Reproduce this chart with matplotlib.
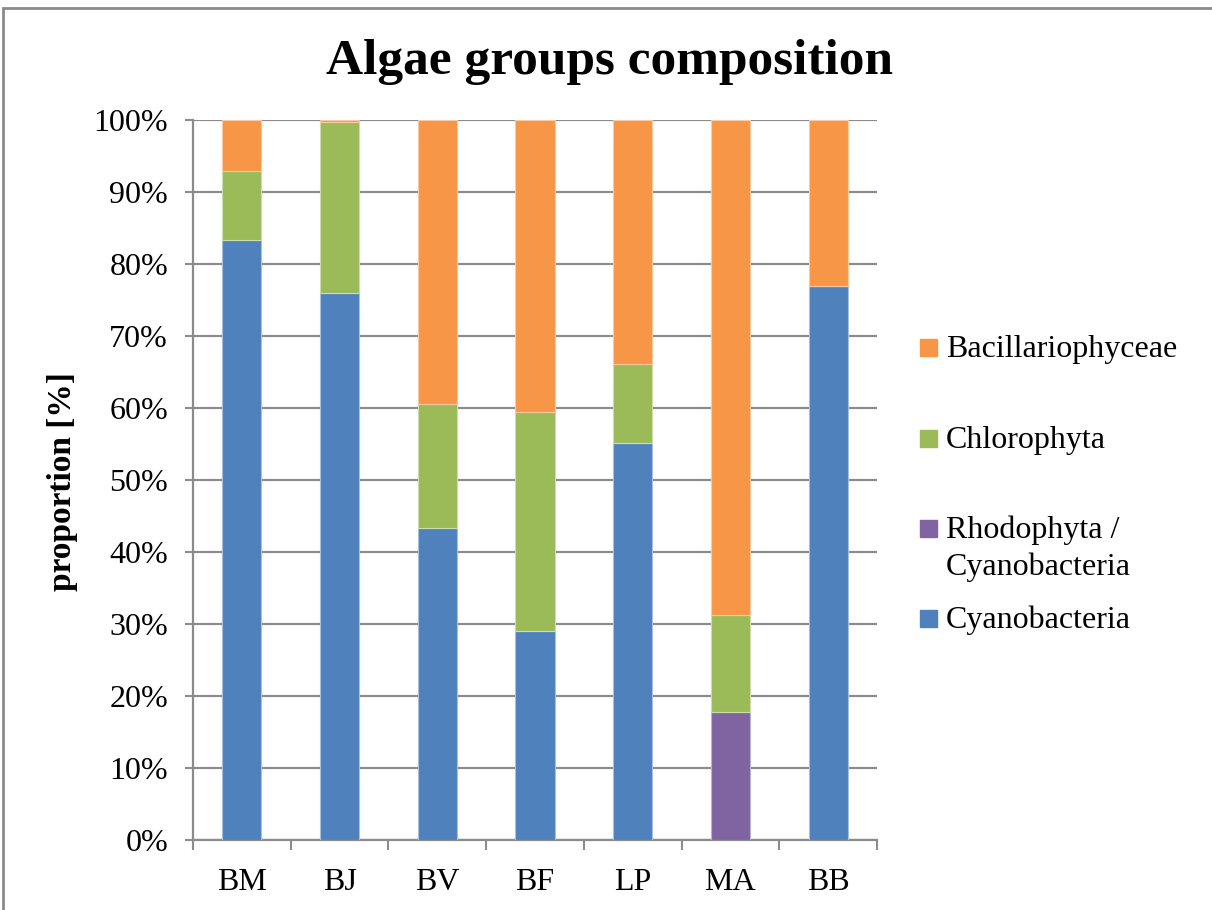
import matplotlib.pyplot as plt
import numpy as np
from matplotlib.patches import Rectangle

plt.rcParams['font.family'] = ['Liberation Serif', 'DejaVu Serif']

sites = ['BM', 'BJ', 'BV', 'BF', 'LP', 'MA', 'BB']
cyanobacteria = [83.3, 76.0, 43.3, 29.0, 55.1, 0.0, 77.0]
rhodophyta = [0.0, 0.0, 0.0, 0.0, 0.0, 17.8, 0.0]
chlorophyta = [9.6, 23.7, 17.3, 30.5, 11.0, 13.5, 0.0]
bacillariophyceae = [7.1, 0.3, 39.4, 40.5, 33.9, 68.7, 23.0]

groups = [
    ('Cyanobacteria', cyanobacteria, '#4F81BD', '#A7C0DE'),
    ('Rhodophyta /\nCyanobacteria', rhodophyta, '#8064A2', '#BFB1D0'),
    ('Chlorophyta', chlorophyta, '#9BBB59', '#CDDDAC'),
    ('Bacillariophyceae', bacillariophyceae, '#F79646', '#FBCAA2'),
]

W, H = 1212, 910
fig = plt.figure(figsize=(W / 100, H / 100), dpi=100)
ax = fig.add_axes([193 / W, 70 / H, 684 / W, 720 / H])

x = np.arange(len(sites))
bottom = np.zeros(len(sites))
for name, vals, col, edge in groups:
    vals = np.array(vals)
    ax.bar(x, vals, 0.4, bottom=bottom, color=col, edgecolor=edge,
           linewidth=0.8, zorder=3)
    bottom += vals

ax.set_xlim(-0.5, len(sites) - 0.5)
ax.set_ylim(0, 100)
ax.set_yticks(np.arange(0, 101, 10))
ax.set_yticklabels([f'{v}%' for v in range(0, 101, 10)])
ax.yaxis.grid(True, color='#8c8c8c', linewidth=1.6, zorder=0)
ax.set_axisbelow(True)

# category labels centred, tick marks between categories
ax.set_xticks(x)
ax.set_xticklabels(sites)
ax.tick_params(axis='x', which='major', length=0, pad=20, labelsize=23)
ax.set_xticks(np.arange(-0.5, len(sites)), minor=True)
ax.tick_params(axis='x', which='minor', length=7, width=1.5, color='#8c8c8c')
ax.tick_params(axis='y', length=6, width=1.5, color='#8c8c8c', labelsize=23, pad=12)

for s in ['top', 'right']:
    ax.spines[s].set_visible(False)
for s in ['left', 'bottom']:
    ax.spines[s].set_color('#8c8c8c')
    ax.spines[s].set_linewidth(1.6)

fig.text(62 / W, 1 - 482 / H, 'proportion [%]', fontsize=24, fontweight='bold',
         rotation=90, ha='center', va='center')
fig.text(610 / W, 1 - 62 / H, 'Algae groups composition', fontsize=37,
         fontweight='bold', ha='center', va='center')

# legend, top entry first: (label lines, colour, square top px, baselines px)
legend_rows = [
    (['Bacillariophyceae'], '#F79646', 339, [357]),
    (['Chlorophyta'], '#9BBB59', 430, [448]),
    (['Rhodophyta /', 'Cyanobacteria'], '#8064A2', 520, [538, 575]),
    (['Cyanobacteria'], '#4F81BD', 610, [628]),
]
for lines, col, top, baselines in legend_rows:
    fig.patches.append(Rectangle((920 / W, 1 - (top + 17) / H), 17 / W, 17 / H,
                                 transform=fig.transFigure, color=col))
    for line, base in zip(lines, baselines):
        fig.text(946 / W, 1 - base / H, line, fontsize=23, ha='left', va='baseline')

# chart border
fig.patches.append(Rectangle((3 / W, -0.05), 1.1, 1 - 8 / H + 0.05,
                             transform=fig.transFigure, fill=False,
                             edgecolor='#8a8a8a', linewidth=2))

fig.savefig('out.png', dpi=100)
